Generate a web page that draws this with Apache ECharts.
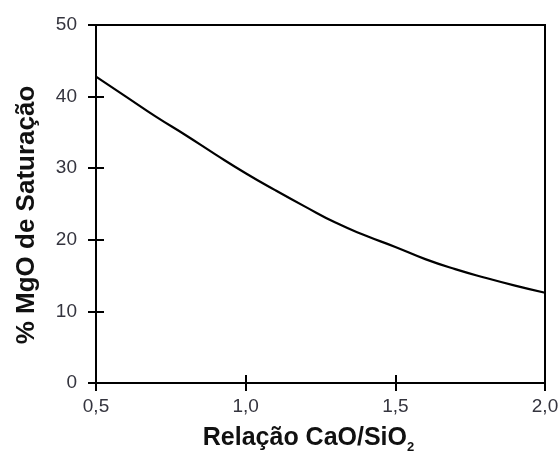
<!DOCTYPE html>
<html>
<head>
<meta charset="utf-8">
<script src="https://cdn.jsdelivr.net/npm/echarts@6/dist/echarts.min.js"></script>
<style>
  html, body { margin: 0; padding: 0; background: #fff; }
  #main { width: 560px; height: 455px; }
</style>
</head>
<body>
<div id="main"></div>
<script>
var myChart = echarts.init(document.getElementById('main'));

// relação CaO/SiO2 e % MgO de saturação
var ratio = [0.5, 0.6, 0.7, 0.8, 0.9, 1.0, 1.1, 1.2, 1.3, 1.4, 1.5, 1.6, 1.7, 1.8, 1.9, 2.0];
var mgo = [42.8, 40.0, 37.2, 34.6, 31.9, 29.3, 26.9, 24.6, 22.4, 20.6, 19.0, 17.3, 15.9, 14.7, 13.6, 12.6];

var xTicks = [0.5, 1.0, 1.5, 2.0];
var yTicks = [0, 10, 20, 30, 40, 50];

var data = [];
for (var i = 0; i < ratio.length; i++) {
    data.push([ratio[i], mgo[i]]);
}

var labelColor = '#34343e';
var lineStyle = { color: '#000', width: 2 };

var option = {
    backgroundColor: '#fff',
    animation: false,
    grid: {
        left: 96, right: 15, top: 25, bottom: 72,
        outerBoundsMode: 'none',
        show: true,
        borderColor: '#000',
        borderWidth: 2
    },
    xAxis: [
        {
            type: 'value',
            min: xTicks[0], max: xTicks[xTicks.length - 1], interval: 0.5,
            name: '{a|Relação CaO/SiO}{s|2}',
            nameLocation: 'middle',
            nameGap: 40,
            nameTextStyle: {
                padding: [0, 24, 0, 0],
                rich: {
                    a: { fontFamily: 'Liberation Sans', fontWeight: 'bold', fontSize: 25, color: '#111' },
                    s: { fontFamily: 'Liberation Sans', fontWeight: 'bold', fontSize: 13, color: '#111', padding: [18, 0, 0, 0] }
                }
            },
            axisLine: { lineStyle: lineStyle },
            axisTick: { show: true, length: 8, lineStyle: lineStyle },
            splitLine: { show: false },
            axisLabel: {
                margin: 14,
                fontFamily: 'Liberation Sans', fontSize: 19, color: labelColor,
                formatter: function (v) { return v.toFixed(1).replace('.', ','); }
            }
        },
        {
            type: 'value', position: 'bottom',
            min: xTicks[0], max: xTicks[xTicks.length - 1], interval: 0.5,
            axisLine: { show: false },
            axisTick: { show: true, inside: true, length: 8, lineStyle: lineStyle },
            axisLabel: { show: false },
            splitLine: { show: false }
        }
    ],
    yAxis: [
        {
            type: 'value',
            min: yTicks[0], max: yTicks[yTicks.length - 1], interval: 10,
            name: '% MgO de Saturação',
            nameLocation: 'middle',
            nameGap: 56,
            nameTextStyle: {
                padding: [0, 22, 0, 0],
                fontFamily: 'Liberation Sans', fontWeight: 'bold', fontSize: 26, color: '#111'
            },
            axisLine: { lineStyle: lineStyle },
            axisTick: { show: true, length: 8, lineStyle: lineStyle },
            splitLine: { show: false },
            axisLabel: {
                margin: 19,
                fontFamily: 'Liberation Sans', fontSize: 19, color: labelColor
            }
        },
        {
            type: 'value', position: 'left',
            min: yTicks[0], max: yTicks[yTicks.length - 1], interval: 10,
            axisLine: { show: false },
            axisTick: { show: true, inside: true, length: 8, lineStyle: lineStyle },
            axisLabel: { show: false },
            splitLine: { show: false }
        }
    ],
    series: [
        {
            type: 'line',
            data: data,
            smooth: true,
            showSymbol: false,
            lineStyle: { color: '#000', width: 2.2 }
        }
    ]
};
myChart.setOption(option);
</script>
</body>
</html>
